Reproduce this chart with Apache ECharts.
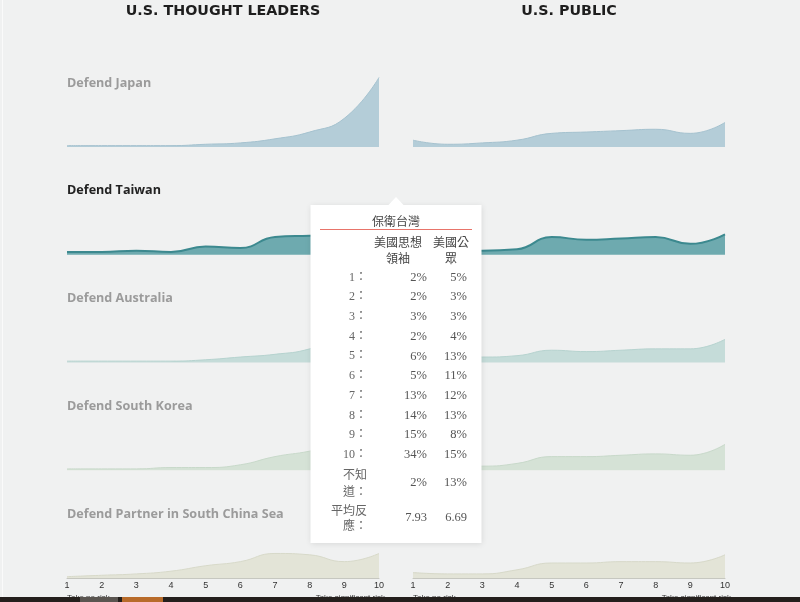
<!DOCTYPE html>
<html>
<head>
<meta charset="utf-8">
<script src="https://cdn.jsdelivr.net/npm/echarts@6/dist/echarts.min.js"></script>
<style>
  html, body { margin: 0; padding: 0; background: #f0f1f1; }
  #chart { width: 800px; height: 602px; }
</style>
</head>
<body>
<div id="chart"></div>
<script>
const riskLevels = ['1', '2', '3', '4', '5', '6', '7', '8', '9', '10']
const columnTitles = ['U.S. THOUGHT LEADERS', 'U.S. PUBLIC']
const scenarios = ['Defend Japan', 'Defend Taiwan', 'Defend Australia', 'Defend South Korea', 'Defend Partner in South China Sea']
const scaleEnds = ['Take no risk', 'Take significant risk']

// % of respondents at each risk level (1 = take no risk, 10 = take significant risk)
const leadersJapan = [1, 1, 1, 1, 2, 3, 6, 11, 21, 51]
const publicJapan = [5, 2, 3, 5, 10, 11, 12, 13, 10, 18]
const leadersTaiwan = [2, 2, 3, 2, 6, 5, 13, 14, 15, 34]
const publicTaiwan = [5, 3, 3, 4, 13, 11, 12, 13, 8, 15]
const leadersAustralia = [1, 1, 1, 1, 2, 4, 6, 10, 20, 40]
const publicAustralia = [5, 4, 4, 5, 9, 8, 9, 10, 10, 17]
const leadersKorea = [1, 1, 1, 2, 2, 4, 10, 14, 20, 38]
const publicKorea = [4, 3, 3, 5, 10, 10, 11, 12, 11, 19]
const leadersSCS = [1, 2, 3, 5, 9, 12, 18, 17, 12, 18]
const publicSCS = [4, 3, 3, 6, 11, 11, 12, 12, 11, 17]

// tooltip (hover on Defend Taiwan)
const tipTitle = '保衛台灣'
const tipHeaders = ['美國思想\n領袖', '美國公\n眾']
const tipDontKnowLabel = '不知\n道：'
const tipAverageLabel = '平均反\n應：'
const taiwanDontKnow = [2, 13]
const taiwanAverage = ['7.93', '6.69']

const leaders = [leadersJapan, leadersTaiwan, leadersAustralia, leadersKorea, leadersSCS]
const publics = [publicJapan, publicTaiwan, publicAustralia, publicKorea, publicSCS]
const fills = ['#b4cdd8', '#6eaaaf', '#c5dcd9', '#d5e2d6', '#e3e4d7']
const strokes = ['#a5c2cf', '#3c898f', '#b6d3cf', '#c8d9ca', '#d7d9c9']
const panelLefts = [67, 413]
const panelWidth = 312

const grids = []
const xAxes = []
const yAxes = []
const series = []
const graphic = []

for (let i = 0; i < scenarios.length; i++) {
  const base = 147 + i * 107.75
  for (let j = 0; j < 2; j++) {
    const k = i * 2 + j
    const last = i === scenarios.length - 1
    grids.push({ left: panelLefts[j], width: panelWidth, top: base - 75, height: 75 })
    xAxes.push({
      gridIndex: k,
      type: 'category',
      boundaryGap: false,
      data: riskLevels,
      axisTick: { show: false },
      splitLine: { show: false },
      axisLine: { show: last, lineStyle: { color: '#c6c7c0', width: 1 } },
      axisLabel: { show: last, interval: 0, margin: 3, fontSize: 9, color: '#333', fontFamily: 'Liberation Sans' }
    })
    yAxes.push({ gridIndex: k, type: 'value', min: 0, max: 55, show: false })
    series.push({
      type: 'line',
      name: scenarios[i] + (j ? ' public' : ' leaders'),
      xAxisIndex: k,
      yAxisIndex: k,
      data: j ? publics[i] : leaders[i],
      smooth: 0.5,
      showSymbol: false,
      symbol: 'none',
      silent: true,
      lineStyle: { width: i === 1 ? 2 : 1, color: strokes[i] },
      areaStyle: { color: fills[i], opacity: 1 }
    })
  }
  graphic.push({
    type: 'text',
    x: 67,
    y: base - 64,
    style: {
      text: scenarios[i],
      font: 'bold 12.6px "Open Sans"',
      fill: i === 1 ? '#222' : '#9b9b9b',
      align: 'left',
      verticalAlign: 'middle'
    }
  })
}

// column titles
columnTitles.forEach(function (t, j) {
  graphic.push({
    type: 'text',
    x: panelLefts[j] + panelWidth / 2,
    y: 11,
    style: { text: t, font: 'bold 14.3px "DejaVu Sans"', fill: '#1e1e1e', align: 'center', verticalAlign: 'middle' }
  })
})

// scale end labels under bottom axes
panelLefts.forEach(function (left) {
  graphic.push({ type: 'text', x: left, y: 598, style: { text: scaleEnds[0], font: '8px "Liberation Sans"', fill: '#333', align: 'left', verticalAlign: 'middle' } })
  graphic.push({ type: 'text', x: left + panelWidth + 6, y: 598, style: { text: scaleEnds[1], font: '8px "Liberation Sans"', fill: '#333', align: 'right', verticalAlign: 'middle' } })
})

// page edge + bottom bar
graphic.push({ type: 'rect', shape: { x: 2, y: 0, width: 1, height: 597 }, style: { fill: '#fafafa' }, z: 50 })
graphic.push({ type: 'rect', shape: { x: 0, y: 597, width: 800, height: 5 }, style: { fill: '#241f1c' }, z: 120 })
graphic.push({ type: 'rect', shape: { x: 80, y: 597, width: 38, height: 5 }, style: { fill: '#5a5550' }, z: 121 })
graphic.push({ type: 'rect', shape: { x: 122, y: 597, width: 41, height: 5 }, style: { fill: '#b86b2a' }, z: 121 })

// tooltip box
const tipFont = '"Liberation Serif", "Noto Sans CJK TC"'
const cjkFont = '"Noto Sans CJK TC"'
graphic.push({
  type: 'rect', z: 100,
  shape: { x: 310.5, y: 205, width: 171, height: 338 },
  style: { fill: '#fff', shadowBlur: 6, shadowColor: 'rgba(0,0,0,0.10)', shadowOffsetY: 1 }
})
graphic.push({ type: 'polygon', z: 101, shape: { points: [[388, 205.5], [396, 197], [404, 205.5]] }, style: { fill: '#fff' } })
graphic.push({ type: 'text', z: 102, x: 396, y: 221, style: { text: tipTitle, font: '12px ' + cjkFont, fill: '#444', align: 'center', verticalAlign: 'middle' } })
graphic.push({ type: 'rect', z: 102, shape: { x: 320, y: 229, width: 152, height: 1 }, style: { fill: '#e8746a' } })
const valueRight = [427, 467]
const headerCenter = [398, 451]
tipHeaders.forEach(function (h, j) {
  graphic.push({ type: 'text', z: 102, x: headerCenter[j], y: 250, style: { text: h, font: '12px ' + cjkFont, lineHeight: 16, fill: '#444', align: 'center', verticalAlign: 'middle' } })
})
riskLevels.forEach(function (lvl, r) {
  const y = 277.5 + r * 19.7
  graphic.push({ type: 'text', z: 102, x: 367, y: y, style: { text: lvl + '：', font: '12px ' + tipFont, fill: '#666', align: 'right', verticalAlign: 'middle' } })
  const pair = [leadersTaiwan[r], publicTaiwan[r]]
  pair.forEach(function (v, j) {
    graphic.push({ type: 'text', z: 102, x: valueRight[j], y: y, style: { text: v + '%', font: '12.5px ' + tipFont, fill: '#555', align: 'right', verticalAlign: 'middle' } })
  })
})
graphic.push({ type: 'text', z: 102, x: 367, y: 483, style: { text: tipDontKnowLabel, font: '12px ' + cjkFont, lineHeight: 17, fill: '#666', align: 'right', verticalAlign: 'middle' } })
graphic.push({ type: 'text', z: 102, x: 367, y: 518, style: { text: tipAverageLabel, font: '12px ' + cjkFont, lineHeight: 15, fill: '#666', align: 'right', verticalAlign: 'middle' } })
taiwanDontKnow.forEach(function (v, j) {
  graphic.push({ type: 'text', z: 102, x: valueRight[j], y: 483, style: { text: v + '%', font: '12.5px ' + tipFont, fill: '#555', align: 'right', verticalAlign: 'middle' } })
})
taiwanAverage.forEach(function (v, j) {
  graphic.push({ type: 'text', z: 102, x: valueRight[j], y: 518, style: { text: v, font: '12.5px ' + tipFont, fill: '#555', align: 'right', verticalAlign: 'middle' } })
})

const chart = echarts.init(document.getElementById('chart'))
chart.setOption({
  backgroundColor: '#f0f1f1',
  animation: false,
  grid: grids,
  xAxis: xAxes,
  yAxis: yAxes,
  series: series,
  graphic: graphic
})
</script>
</body>
</html>
